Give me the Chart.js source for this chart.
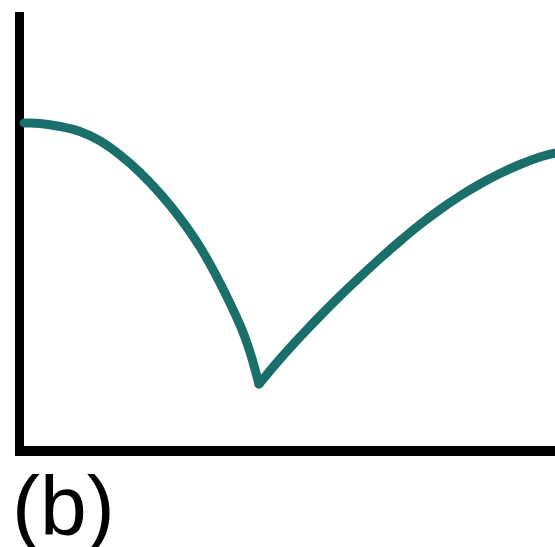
<!DOCTYPE html>
<html>
<head>
<meta charset="utf-8">
<script src="https://cdn.jsdelivr.net/npm/chart.js@4/dist/chart.umd.min.js"></script>
<style>
  html, body { margin: 0; padding: 0; background: #fff; }
  #wrap { width: 555px; height: 547px; }
</style>
</head>
<body>
<div id="wrap"><canvas id="grafico" width="555" height="547"></canvas></div>
<script>
// Curve (x: 0-100, y: 0-100), split at the cusp
const xIzq = [0.84, 3.83, 7.56, 11.30, 15.03, 18.77, 22.50, 26.24, 29.97, 33.71, 37.44, 41.18, 43.04, 44.72];
const yIzq = [75.49, 75.37, 74.68, 73.53, 71.35, 68.12, 64.10, 59.26, 53.63, 46.95, 38.67, 29.00, 22.78, 15.42];
const xDer = [44.72, 48.65, 52.38, 56.12, 59.85, 63.59, 67.32, 71.06, 74.79, 78.53, 82.26, 86.00, 89.73, 93.46, 97.20, 100];
const yDer = [15.42, 21.17, 26.24, 31.07, 35.67, 40.05, 44.30, 48.33, 52.13, 55.58, 58.69, 61.45, 63.87, 65.94, 67.66, 68.58];
const etiqueta = "(b)";

const color = "#1b6f6a";

const puntos = (xs, ys) => xs.map((x, i) => ({ x: x, y: ys[i] }));

const textoPlugin = {
  id: "textoPlugin",
  afterDraw(chart) {
    const ctx = chart.ctx;
    ctx.save();
    ctx.fillStyle = "#000";
    ctx.font = "84px 'Liberation Sans', Arial, sans-serif";
    ctx.textBaseline = "alphabetic";
    ctx.fillText(etiqueta, 12, 535);
    ctx.restore();
  }
};

const ctx = document.getElementById("grafico").getContext("2d");
new Chart(ctx, {
  type: "line",
  data: {
    datasets: [
      { data: puntos(xIzq, yIzq) },
      { data: puntos(xDer, yDer) }
    ]
  },
  options: {
    responsive: false,
    animation: false,
    layout: { padding: { left: 19.5, right: 0, top: 16.5, bottom: 96 } },
    elements: {
      point: { radius: 0 },
      line: {
        borderColor: color,
        borderWidth: 9,
        tension: 0.4,
        borderCapStyle: "round",
        borderJoinStyle: "round",
        fill: false
      }
    },
    scales: {
      x: {
        type: "linear",
        min: 0,
        max: 100,
        grid: { display: false },
        ticks: { display: false },
        border: { display: true, color: "#000", width: 10 },
        afterFit: (s) => { s.height = 0; }
      },
      y: {
        min: 0,
        max: 100,
        grid: { display: false },
        ticks: { display: false },
        border: { display: true, color: "#000", width: 9 },
        afterFit: (s) => { s.width = 0; }
      }
    },
    plugins: {
      legend: { display: false },
      tooltip: { enabled: false }
    }
  },
  plugins: [textoPlugin]
});
</script>
</body>
</html>
